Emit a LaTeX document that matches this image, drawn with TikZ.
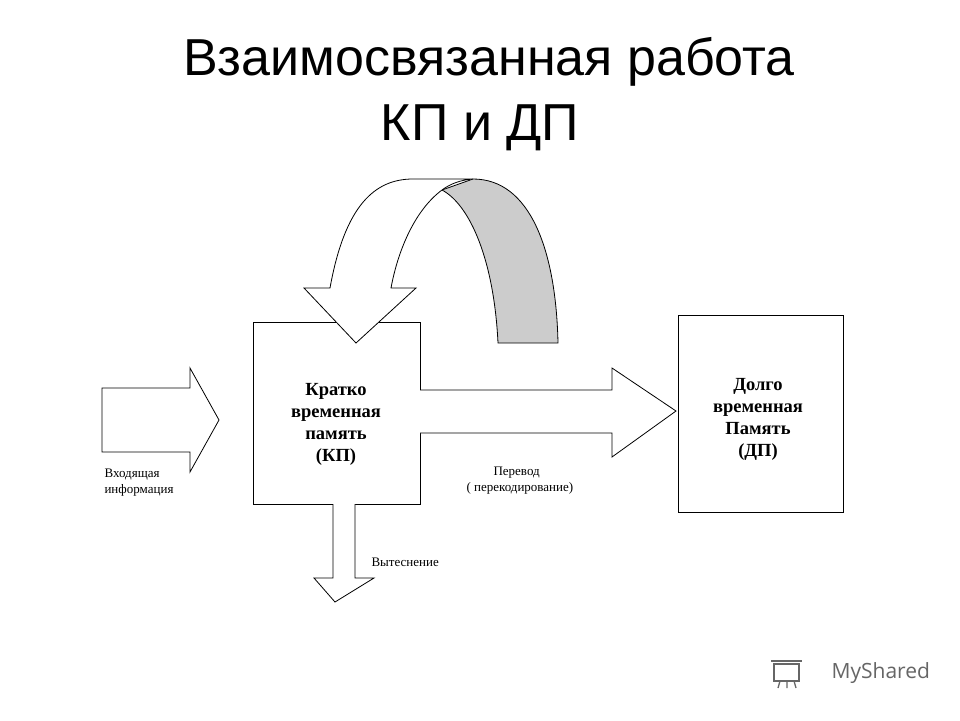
\documentclass[tikz,border=0pt]{standalone}
\usepackage{fontspec}
\setmainfont{Liberation Serif}
\newfontfamily\ttl{Liberation Sans}
\newfontfamily\logof{Open Sans}
\begin{document}
\begin{tikzpicture}[x=1pt,y=-1pt,
  box/.style={draw,line width=0.8pt,inner sep=0},
  shp/.style={draw,line width=0.8pt,fill=white,line join=miter},
  btxt/.style={font=\fontsize{18.5}{22}\selectfont\bfseries,align=center},
  stxt/.style={font=\fontsize{13}{16}\selectfont,align=left}]
\useasboundingbox (0,0) rectangle (960,720);
\node[font=\ttl\fontsize{52}{60}\selectfont] (t1) at (489,62) {Взаимосвязанная работа};
\node[font=\ttl\fontsize{52}{60}\selectfont] (t2) at (480,128) {КП и ДП};
% boxes
\node[box,minimum width=167,minimum height=182] (kp) at (336.5,413) {};
\node[box,minimum width=165,minimum height=197] (dp) at (760.5,413.5) {};
\node[btxt] (kpt) at (336,424) {Кратко\\временная\\память\\(КП)};
\node[btxt] (dpt) at (758,419) {Долго\\временная\\Память\\(ДП)};
% curved arrow
\draw[shp,fill=black!20] (442,190) .. controls (470,205) and (494,260) .. (498,343) -- (558,343) .. controls (556,250) and (530,179) .. (473,179) -- cycle;
\draw[shp] (330,288) .. controls (345,205) and (375,179) .. (413,179) -- (473,179) .. controls (460,180) and (450,184) .. (442,190) .. controls (415,210) and (398,250) .. (391,288) -- (416,288) -- (356,343) -- (304,288) -- cycle;
% input arrow
\draw[shp] (102,388) -- (190,388) -- (190,368) -- (219,420) -- (190,472) -- (190,452) -- (102,452) -- cycle;
% right arrow
\draw[shp] (420,390) -- (612,390) -- (612,368) -- (676,411) -- (612,457) -- (612,433) -- (420,433);
% down arrow
\draw[shp] (333,504) -- (333,578) -- (314,578) -- (335,602) -- (374,578) -- (355,578) -- (355,504);
\node[stxt,anchor=north west] (in) at (101,465) {Входящая\\информация};
\node[stxt,anchor=north west] (pr) at (463,463) {\hspace*{27pt}Перевод\\( перекодирование)};
\node[stxt,anchor=west] (vt) at (368,562) {Вытеснение};
% logo
\node[font=\logof\fontsize{21}{24}\selectfont,text=black!60,anchor=west] (logo) at (828,673) {MyShared};
\draw[black!60,line width=1.6pt] (774,664) rectangle (799,681);
\draw[black!60,line width=1.6pt] (771,661) -- (802,661);
\draw[black!60,line width=1.3pt] (780,681) -- (778,688) (787,681) -- (787,688) (794,681) -- (796,688);
\end{tikzpicture}
\end{document}
